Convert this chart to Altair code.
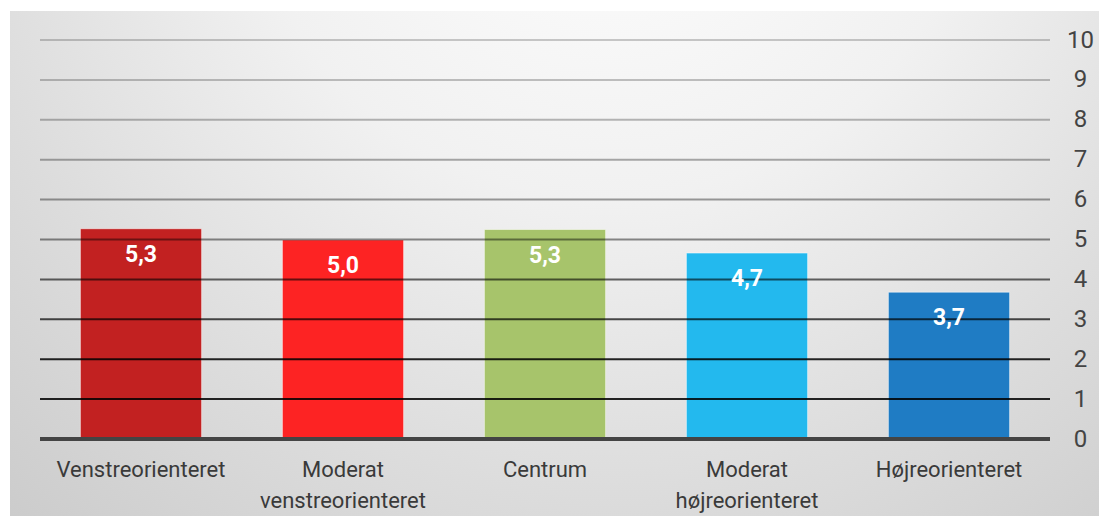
import altair as alt
import pandas as pd

categories = ["Venstreorienteret", "Moderat|venstreorienteret", "Centrum",
              "Moderat|højreorienteret", "Højreorienteret"]
values = [5.27, 4.99, 5.25, 4.66, 3.68]
colors = ["#c22121", "#fd2323", "#a7c46b", "#23b9ee", "#1f7cc4"]
grid_values = [1, 2, 3, 4, 5, 6, 7, 8, 9, 10]
grid_opacity = [0.85, 0.85, 0.7, 0.6, 0.45, 0.38, 0.32, 0.27, 0.23, 0.2]
y_ticks = [0, 1, 2, 3, 4, 5, 6, 7, 8, 9, 10]

df = pd.DataFrame({"cat": categories, "v": values, "col": colors})
grid_df = pd.DataFrame({"g": grid_values, "o": grid_opacity})
zero_df = pd.DataFrame({"g": [0]})
bg_df = pd.DataFrame({"a": [0]})

FONT = "Roboto"

gradient = alt.Gradient(
    gradient="radial",
    stops=[
        alt.GradientStop(color="#ffffff", offset=0),
        alt.GradientStop(color="#f1f1f1", offset=0.4),
        alt.GradientStop(color="#dcdcdc", offset=0.72),
        alt.GradientStop(color="#cbcbcb", offset=1),
    ],
    x1=0.55, y1=0.1, r1=0, x2=0.55, y2=0.1, r2=0.85,
)

x_axis = alt.Axis(
    orient="bottom", labelAngle=0, domain=False, ticks=False, title=None,
    labelExpr="split(datum.label, '|')", labelFontSize=22, labelColor="#3a3a3a",
    labelFont=FONT, labelPadding=20, labelLineHeight=31, zindex=2,
    labelLimit=0,
)
y_axis = alt.Axis(
    orient="right", values=y_ticks, grid=False, domain=False, ticks=False,
    title=None, labelFontSize=24, labelColor="#444444", labelFont=FONT,
    labelPadding=30, labelAlign="center", zindex=2, labelOverlap=False,
    labelFlush=False, labelBound=False,
)
x_scale = alt.Scale(paddingInner=0.4, paddingOuter=0.2)
y_scale = alt.Scale(domain=[0, 10])

bg = alt.Chart(bg_df).mark_rect(fill=gradient).encode(
    x=alt.value(-30), x2=alt.value(1059), y=alt.value(-29), y2=alt.value(476)
)

bars = alt.Chart(df).mark_bar(stroke="white", strokeOpacity=0.5, strokeWidth=1).encode(
    x=alt.X("cat:N", sort=categories, scale=x_scale, axis=x_axis),
    y=alt.Y("v:Q", scale=y_scale, axis=y_axis),
    color=alt.Color("col:N", scale=None),
)

rules = alt.Chart(grid_df).mark_rule(color="black", strokeWidth=2).encode(
    y=alt.Y("g:Q", scale=y_scale, axis=y_axis),
    opacity=alt.Opacity("o:Q", scale=None),
)
zero = alt.Chart(zero_df).mark_rule(color="#444444", strokeWidth=4).encode(
    y=alt.Y("g:Q", scale=y_scale, axis=y_axis)
)

labels = alt.Chart(df).transform_calculate(
    lab="replace(format(datum.v, '.1f'), '.', ',')"
).mark_text(color="white", fontSize=23, fontWeight="bold", font=FONT,
            baseline="middle", dy=26).encode(
    x=alt.X("cat:N", sort=categories, scale=x_scale, axis=x_axis),
    y=alt.Y("v:Q", scale=y_scale, axis=y_axis),
    text="lab:N",
)

chart = alt.layer(bg, bars, rules, zero, labels).properties(
    width=1010, height=399,
    padding={"left": 32, "top": 32, "right": 49, "bottom": 77},
    autosize=alt.AutoSizeParams(type="none"),
).configure_view(stroke=None).configure(background="white")

chart.save("out.html", embed_options={"renderer": "svg", "actions": False})
